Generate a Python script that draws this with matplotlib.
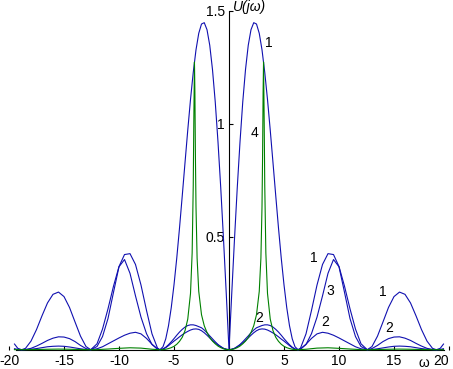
import numpy as np
import matplotlib
matplotlib.use('Agg')
import matplotlib.pyplot as plt

# Spectrum is symmetric about w = 0, so only the w >= 0 half is kept here
omega = [0, 0.25, 0.5, 0.75, 1.0, 1.25, 1.5, 1.75, 2.0, 2.25, 2.5, 2.75, 3.0,
         3.25, 3.5, 3.75, 4.0, 4.25, 4.5, 4.75, 5.0, 5.25, 5.5, 5.75, 6.0,
         6.28, 6.5, 7.0, 7.5, 8.0, 8.5, 9.0, 9.5, 10.0, 10.5, 11.0, 11.5, 12.0,
         12.57, 13.0, 13.5, 14.0, 14.5, 15.0, 15.5, 16.0, 16.5, 17.0, 17.5,
         18.0, 18.5, 18.85, 19.2, 19.5]

u1 = [0, 0.249, 0.490, 0.716, 0.919, 1.096, 1.239, 1.347, 1.416, 1.447, 1.441,
      1.400, 1.327, 1.227, 1.107, 0.971, 0.827, 0.681, 0.538, 0.405, 0.287,
      0.186, 0.106, 0.048, 0.013,
      0, 0.007, 0.070, 0.174, 0.286, 0.377, 0.425, 0.421, 0.368, 0.281, 0.181,
      0.091, 0.026,
      0, 0.014, 0.060, 0.123, 0.187, 0.235, 0.255, 0.245, 0.207, 0.150, 0.089,
      0.038, 0.006,
      0, 0.006, 0.025]

u2 = [0, 0.002, 0.006, 0.013, 0.021, 0.030, 0.040, 0.052, 0.064, 0.075, 0.084,
      0.090, 0.092, 0.091, 0.087, 0.081, 0.074, 0.066, 0.057, 0.047, 0.038,
      0.028, 0.018, 0.009, 0.003,
      0, 0.004, 0.024, 0.050, 0.070, 0.077, 0.073, 0.064, 0.052, 0.039, 0.026,
      0.013, 0.004,
      0, 0.001, 0.004, 0.008, 0.012, 0.015, 0.016, 0.015, 0.013, 0.009, 0.005,
      0.002, 0.0003,
      0, 0.0003, 0.002]

u3 = [0, 0.002, 0.006, 0.014, 0.023, 0.035, 0.048, 0.061, 0.075, 0.087, 0.097,
      0.102, 0.107, 0.110, 0.110, 0.107, 0.100, 0.090, 0.078, 0.064, 0.049,
      0.035, 0.022, 0.011, 0.003,
      0, 0.002, 0.023, 0.071, 0.144, 0.238, 0.338, 0.399, 0.367, 0.254, 0.138,
      0.058, 0.014,
      0, 0.005, 0.019, 0.036, 0.049, 0.056, 0.057, 0.051, 0.041, 0.028, 0.016,
      0.006, 0.001,
      0, 0.001, 0.004]

# curve 4 (narrow resonance near pi) has its own, denser sampling
omega4 = [0, 0.25, 0.5, 0.75, 1.0, 1.25, 1.5, 1.75, 2.0, 2.25, 2.5, 2.75,
          2.9, 3.0, 3.05, 3.1, 3.14, 3.2, 3.25, 3.35, 3.5,
          3.75, 4.0, 4.25, 4.5, 4.75, 5.0, 5.25, 5.5, 5.75, 6.0,
          6.28, 7.0, 8.0, 9.0, 10.0, 11.0, 12.0,
          12.57, 13.5, 14.5, 15.5, 16.5, 17.5, 18.85, 19.5]
u4 = [0, 0.001, 0.004, 0.009, 0.016, 0.026, 0.038, 0.054, 0.076, 0.106, 0.155,
      0.258, 0.405, 0.632, 0.844, 1.137, 1.273, 1.005, 0.728, 0.428, 0.249,
      0.135, 0.084, 0.055, 0.037, 0.024, 0.015, 0.009, 0.005, 0.002, 0.0005,
      0, 0.002, 0.007, 0.0085, 0.006, 0.003, 0.0004,
      0, 0.0008, 0.002, 0.0027, 0.002, 0.0008, 0, 0.0002]

x_ticks = [-20, -15, -10, -5, 0, 5, 10, 15, 20]
y_ticks = [0.5, 1, 1.5]
y_tick_labels = ['0.5', '1', '1.5']


def mirror(w, u):
    w = np.asarray(w, dtype=float)
    u = np.asarray(u, dtype=float)
    return np.concatenate([-w[:0:-1], w]), np.concatenate([u[:0:-1], u])


plt.rcParams['font.family'] = ['Liberation Sans', 'DejaVu Sans']

BLUE = '#1010b0'
GREEN = '#008000'

fig = plt.figure(figsize=(4.53, 3.69), dpi=100)
ax = fig.add_axes([9 / 453, (369 - 349.7) / 369, 440 / 453, 339 / 369])
ax.set_xlim(-20, 20)
ax.set_ylim(0, 1.5)

for u in (u1, u2, u3):
    w, v = mirror(omega, u)
    ax.plot(w, v, color=BLUE, lw=0.8, clip_on=False)
w, v = mirror(omega4, u4)
ax.plot(w, v, color=GREEN, lw=0.8, clip_on=False)

# axes through the origin
for side in ('top', 'right'):
    ax.spines[side].set_visible(False)
ax.spines['left'].set_position(('data', 0))
ax.spines['bottom'].set_position(('data', 0))
ax.spines['bottom'].set_bounds(-19.4, 19.5)
for side in ('left', 'bottom'):
    ax.spines[side].set_linewidth(0.8)
    ax.spines[side].set_zorder(1)

ax.set_xticks(x_ticks)
ax.set_xticklabels([str(t) for t in x_ticks])
ax.set_yticks(y_ticks)
ax.set_yticklabels(y_tick_labels)
ax.tick_params(direction='in', length=3, width=0.8, labelsize=10, pad=3)
ax.get_xticklabels()[-1].set_ha('right')

ax.text(0.35, 1.515, 'U(jω)', style='italic', fontsize=10, va='center', ha='left')
ax.text(17.7, -0.027, 'ω', fontsize=10, va='top', ha='center', clip_on=False)

# curve numbers
labels = [('1', 3.66, 1.356), ('4', 2.3, 0.957), ('1', 7.75, 0.407),
          ('3', 9.18, 0.26), ('2', 8.73, 0.121), ('1', 13.97, 0.257),
          ('2', 14.57, 0.095), ('2', 2.76, 0.139)]
for s, lx, ly in labels:
    ax.text(lx, ly, s, fontsize=10, ha='center', va='center')

fig.savefig('out.png', dpi=100)
